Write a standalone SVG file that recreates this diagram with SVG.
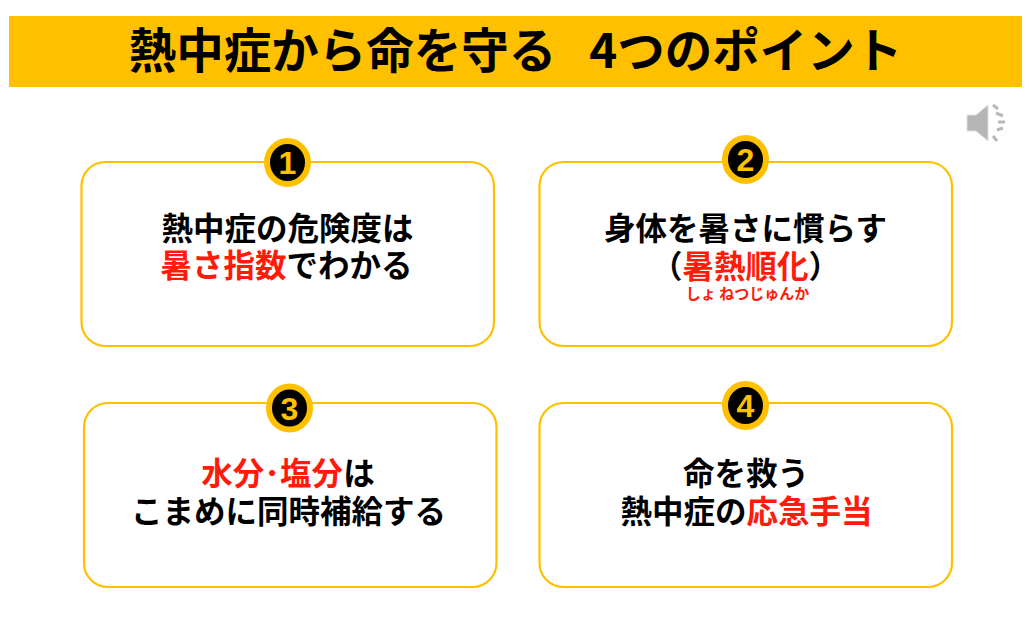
<svg xmlns="http://www.w3.org/2000/svg" width="1032" height="640" viewBox="0 0 1032 640">
<style>
text{font-family:"Noto Sans CJK JP","Noto Sans",sans-serif;font-weight:700;text-anchor:middle;fill:#000}
.t{font-size:31.5px}
.r{fill:#ff1a0a}
.box{fill:#fff;stroke:#ffc000;stroke-width:2.2}
.ring{fill:#000;stroke:#ffc000;stroke-width:6;rx:20.500px;ry:21.500px}
.n{font-family:"Liberation Sans",sans-serif;font-size:32px;font-weight:700;fill:#ffc000}
</style>
<rect width="1032" height="640" fill="#fff"/>
<g id="title"><rect x="9" y="16" width="1013" height="71" fill="#ffc000"/>
<text x="515.500" y="68" font-size="47.5" xml:space="preserve">熱中症から命を守る<tspan dx="33">4つのポイント</tspan></text></g>
<g id="speaker">
<path d="M967 115H976L988 105V141L976 131H967Z" fill="#b5b5b5" stroke="#e0e0e0"/>
<path d="M993 105L998 109M996 113L1003 116M998 122H1005M997 130L1003 128M993 136L997 141" stroke="#b8b8b8" stroke-width="3" fill="none"/>
</g>
<g id="node1"><rect class="box" x="81.500" y="162" width="412.500" height="184" rx="24"/>
<ellipse class="ring" cx="287.500" cy="162.500" rx="20.500" ry="21.500"/><text class="n" x="287.500" y="174">1</text>
<text class="t" x="287.500" y="240">熱中症の危険度は</text>
<text class="t" x="286.500" y="277"><tspan class="r">暑さ指数</tspan>でわかる</text></g>
<g id="node2"><rect class="box" x="539.500" y="162" width="412.500" height="184" rx="24"/>
<ellipse class="ring" cx="745.500" cy="159.500" rx="20.500" ry="21.500"/><text class="n" x="745.500" y="171">2</text>
<text class="t" x="745.500" y="240">身体を暑さに慣らす</text>
<text class="t" x="745.500" y="278">（<tspan class="r">暑熱順化</tspan>）</text>
<text class="r" x="747.500" y="299" font-size="15" font-weight="400">しょ ねつじゅんか</text></g>
<g id="node3"><rect class="box" x="84" y="403" width="412.500" height="184" rx="24"/>
<ellipse class="ring" cx="289.500" cy="408" rx="20.500" ry="21.500"/><text class="n" x="289.500" y="419.500">3</text>
<text class="t" x="288" y="485"><tspan class="r">水分･塩分</tspan>は</text>
<text class="t" x="288.500" y="523">こまめに同時補給する</text></g>
<g id="node4"><rect class="box" x="539.500" y="403" width="412.500" height="184" rx="24"/>
<ellipse class="ring" cx="745.500" cy="405.500" rx="20.500" ry="21.500"/><text class="n" x="745.500" y="417">4</text>
<text class="t" x="746" y="485">命を救う</text>
<text class="t" x="746.500" y="523">熱中症の<tspan class="r">応急手当</tspan></text></g>
<g id="connectors"/>
</svg>
